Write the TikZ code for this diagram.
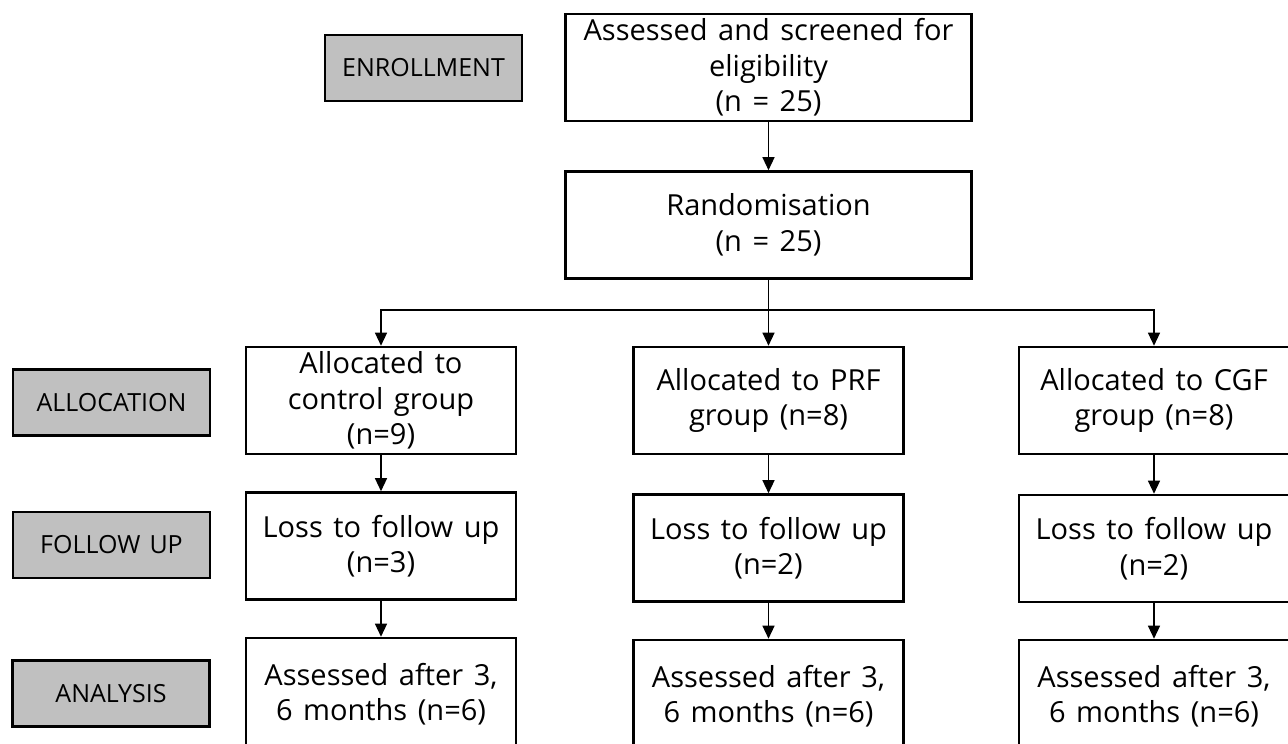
\documentclass[tikz,border=0pt]{standalone}
\usepackage{fontspec}
\setmainfont{Open Sans}[WordSpace=1.4]
\usetikzlibrary{arrows.meta}
\definecolor{labgray}{RGB}{192,192,192}

\begin{document}
\begin{tikzpicture}[x=1pt,y=-1pt]
\tikzstyle{box}=[draw, line width=2.6pt, fill=white, align=center, inner sep=1pt, minimum width=270pt, minimum height=107pt, font=\fontsize{29}{35.5}\selectfont]
\tikzstyle{lab}=[draw, line width=2.6pt, fill=labgray, inner sep=1pt, minimum width=197pt, minimum height=66pt, font=\fontsize{25}{30}\selectfont]
\tikzstyle{arr}=[line width=1.3pt, -{Triangle[length=13pt,width=12pt]}]
\useasboundingbox (0,0) rectangle (1288,744);
%stages
\node[lab] (enrol) at (423.5,68) {ENROLLMENT};
\node[lab] (alloc) at (111.5,402.5) {ALLOCATION};
\node[lab] (follow) at (111.5,545) {FOLLOW UP};
\node[lab] (anal) at (111,693.5) {ANALYSIS};
%top
\node[box, minimum width=406pt] (screen) at (768.5,67.5) {Assessed and screened for\\eligibility\\(n = 25)};
\node[box, minimum width=406pt] (rand) at (768.5,225) {Randomisation\\(n = 25)};
\coordinate (split) at (768.5,310);
\draw[arr] (screen) -- (rand);
\draw[line width=1.3pt] (rand) -- (split);
%control
\def\r{381};
\node[box] (a1) at (\r,400.5) {Allocated to\\control group\\(n=9)};
\node[box] (f1) at (\r,546) {Loss to follow up\\(n=3)};
\node[box, minimum height=112pt] (s1) at (\r,694) {Assessed after 3,\\6 months (n=6)};
\draw[arr] (split) -| (a1);
\draw[arr] (a1) -- (f1);
\draw[arr] (f1) -- (s1);
%PRF
\def\r{768.5};
\node[box] (a2) at (\r,400.5) {Allocated to PRF\\group (n=8)};
\node[box] (f2) at (\r,548) {Loss to follow up\\(n=2)};
\node[box, minimum height=112pt] (s2) at (\r,696) {Assessed after 3,\\6 months (n=6)};
\draw[arr] (split) -- (a2);
\draw[arr] (a2) -- (f2);
\draw[arr] (f2) -- (s2);
%CGF
\def\r{1154};
\node[box] (a3) at (\r,400.5) {Allocated to CGF\\group (n=8)};
\node[box] (f3) at (\r,548.5) {Loss to follow up\\(n=2)};
\node[box, minimum height=112pt] (s3) at (\r,696) {Assessed after 3,\\6 months (n=6)};
\draw[arr] (split) -| (a3);
\draw[arr] (a3) -- (f3);
\draw[arr] (f3) -- (s3);
\end{tikzpicture}
\end{document}
